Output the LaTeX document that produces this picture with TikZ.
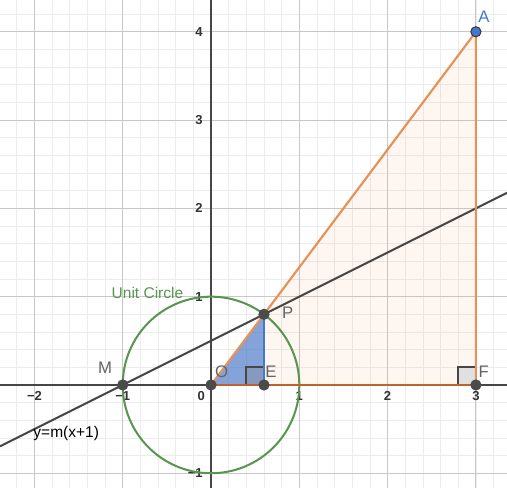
\documentclass[tikz,border=0pt]{standalone}
\usepackage{fontspec}
\setmainfont{Liberation Sans}
\usetikzlibrary{positioning}
\definecolor{axisgray}{RGB}{70,70,70}
\definecolor{majorgrid}{RGB}{200,200,200}
\definecolor{minorgrid}{RGB}{236,236,236}
\definecolor{ggorange}{RGB}{232,145,85}
\definecolor{ggbrown}{RGB}{192,98,45}
\definecolor{gggreen}{RGB}{88,150,80}
\definecolor{ggblue}{RGB}{68,120,205}
\definecolor{ptgray}{RGB}{75,75,75}
\definecolor{lblgray}{RGB}{100,100,100}

\begin{document}
\begin{tikzpicture}[x=1cm, y=1cm,
      pt/.style={circle, fill=ptgray, draw=black!70, line width=0.3pt, minimum size=3.3pt, inner sep=0pt},
      lbl/.style={font=\fontsize{5.4}{6}\selectfont, text=lblgray, inner sep=0.5pt},
      tick/.style={font=\fontsize{4.2}{5}\selectfont\bfseries, text=black!80, inner sep=0.5pt},
      sqmark/.style={draw=axisgray, line width=0.55pt}]

    % canvas: x from -2.39 to 3.35, y from -1.17 to 4.36
    \useasboundingbox (-2.390,-1.166) rectangle (3.352,4.360);
    \fill[white] (-2.390,-1.166) rectangle (3.352,4.360);

    % --- grid ---
    \draw[minorgrid, line width=0.25pt, step=0.2] (-2.390,-1.166) grid (3.352,4.360);
    \draw[majorgrid, line width=0.3pt, step=1] (-2.390,-1.166) grid (3.352,4.360);

    % --- points ---
    \coordinate (O) at (0,0);
    \coordinate (M) at (-1,0);
    \coordinate (P) at (0.6,0.8);
    \coordinate (E) at (0.6,0);
    \coordinate (F) at (3,0);
    \coordinate (A) at (3,4);

    % --- filled triangles ---
    \fill[ggorange, opacity=0.08] (O) -- (A) -- (F) -- cycle;
    \fill[ggblue, opacity=0.65] (O) -- (P) -- (E) -- cycle;

    % --- right angle marks ---
    \fill[black!45, opacity=0.35] (0.4,0) rectangle (0.6,0.2);
    \draw[sqmark] (0.4,0) -- (0.4,0.2) -- (0.6,0.2);
    \fill[black!12] (2.8,0) rectangle (3,0.2);
    \draw[sqmark] (2.8,0) -- (2.8,0.2) -- (3,0.2);

    % --- axes ---
    \draw[axisgray, line width=0.7pt] (-2.390,0) -- (3.352,0);
    \draw[axisgray, line width=0.7pt] (0,-1.166) -- (0,4.360);

    % --- tick labels ---
    \foreach \x/\t in {-2/−2, -1/−1, 1/1, 2/2, 3/3}
      \node[tick] at (\x,-0.13) {\t};
    \node[tick] at (-0.11,-0.13) {0};
    \foreach \y/\t in {1/1, 2/2, 3/3, 4/4, -1/−1}
      \node[tick, anchor=east] at (-0.07,\y) {\t};

    % --- unit circle ---
    \draw[gggreen, line width=0.65pt] (O) circle (1);
    \node[font=\fontsize{5}{6}\selectfont, text=gggreen] (ucirc) at (-0.72,1.04) {Unit Circle};

    % --- line y=m(x+1) ---
    \draw[axisgray, line width=0.65pt] (-2.390,-0.695) -- (3.352,2.176);
    \node[font=\fontsize{5}{6}\selectfont, text=black] (eqn) at (-1.64,-0.545) {y=m(x+1)};

    % --- segments ---
    \draw[ggorange, line width=0.7pt] (O) -- (A) -- (F);
    \draw[ggbrown, line width=0.7pt] (O) -- (F);
    \draw[ggblue, line width=0.7pt] (P) -- (E);

    % --- point markers ---
    \node[pt] (Mp) at (M) {};
    \node[pt] (Op) at (O) {};
    \node[pt] (Ep) at (E) {};
    \node[pt] (Fp) at (F) {};
    \node[pt] (Pp) at (P) {};
    \node[pt, fill=ggblue, draw=black!80] (Ap) at (A) {};

    % --- point labels ---
    \node[lbl] at (-1.20,0.19) {M};
    \node[lbl] at (0.12,0.15) {O};
    \node[lbl] at (0.68,0.15) {E};
    \node[lbl] at (0.87,0.82) {P};
    \node[lbl] at (3.09,0.15) {F};
    \node[lbl, text=ggblue] at (3.09,4.17) {A};

\end{tikzpicture}
\end{document}
